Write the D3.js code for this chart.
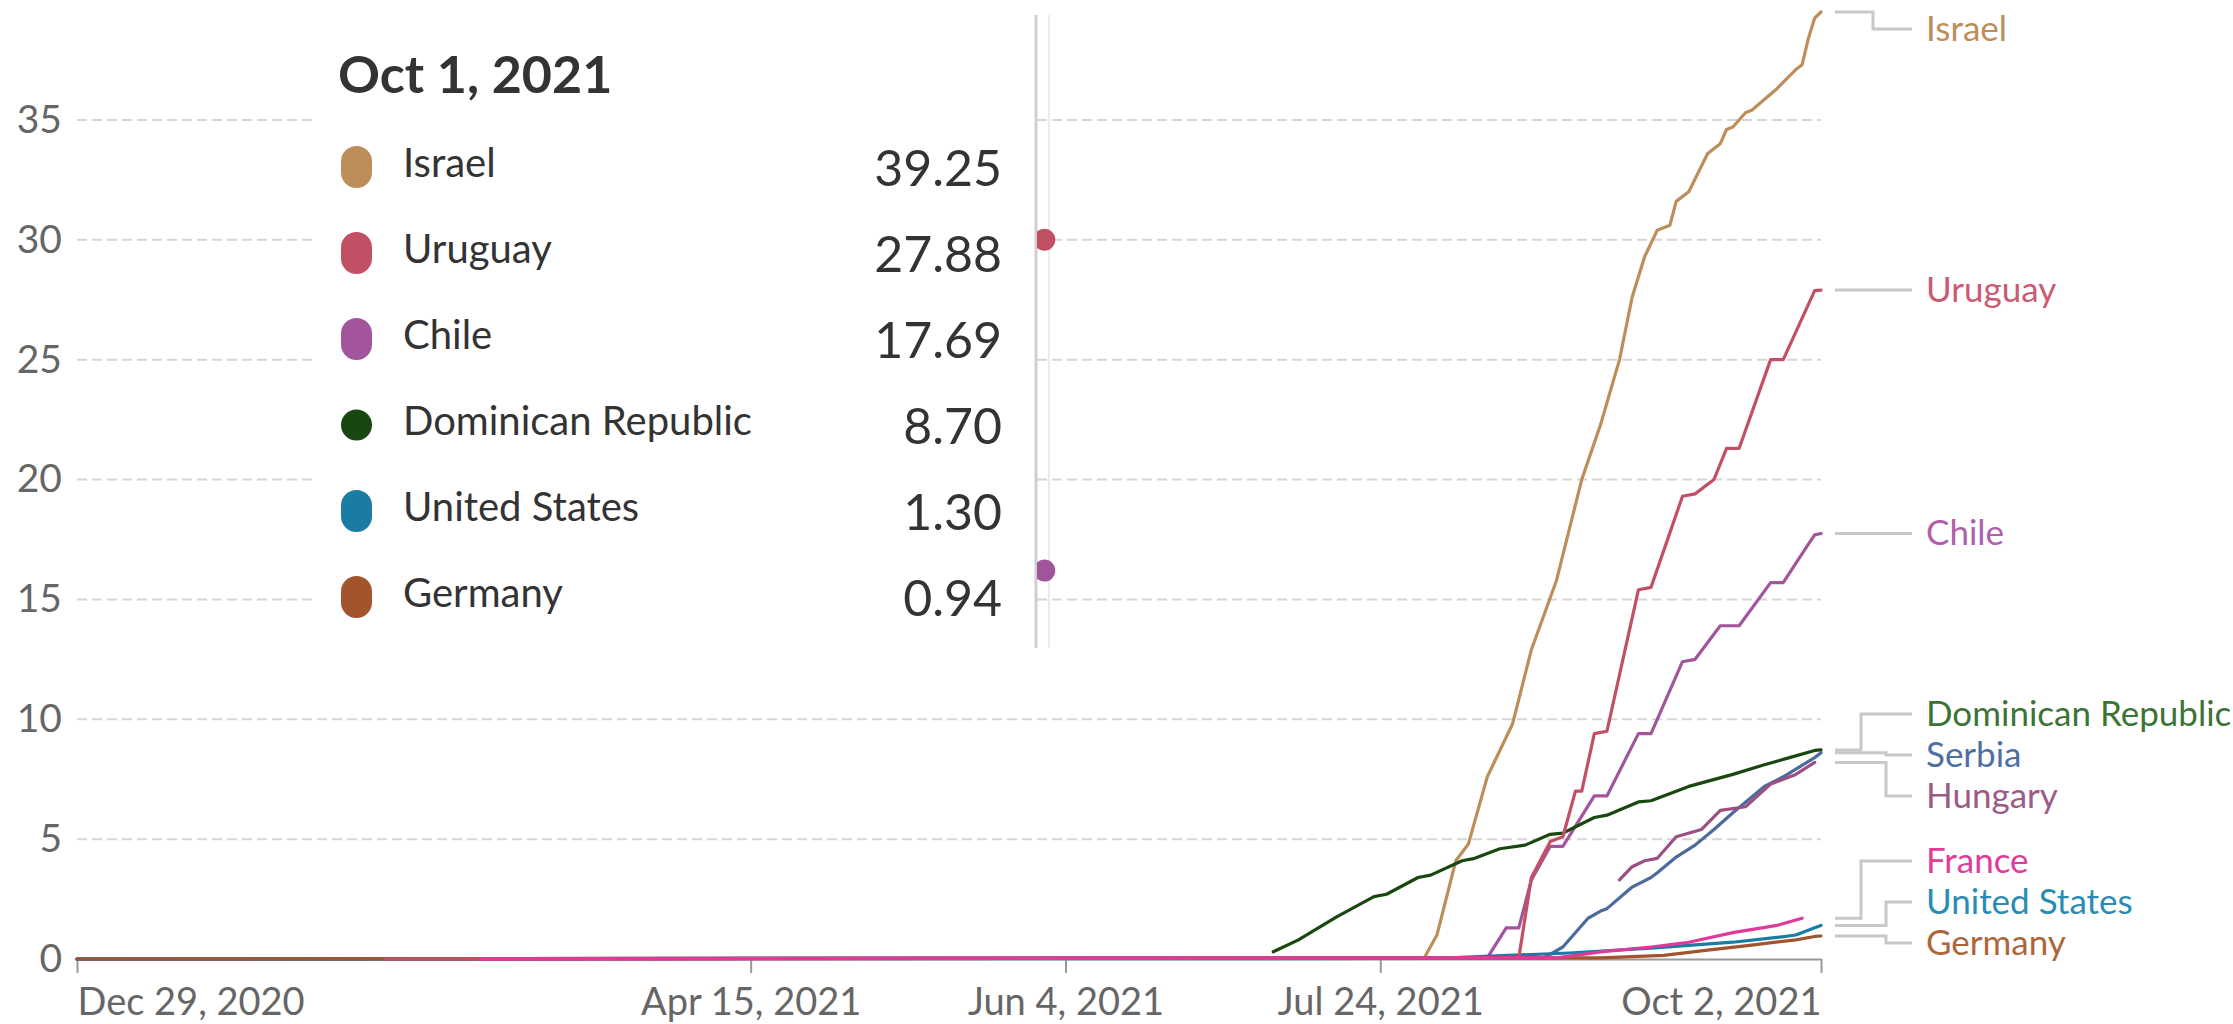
<!DOCTYPE html>
<html>
<head>
<meta charset="utf-8">
<script src="https://cdn.jsdelivr.net/npm/d3@7"></script>
<style>
  body { margin: 0; background: #fff; }
  svg { display: block; font-family: Lato, sans-serif; }
</style>
</head>
<body>
<svg id="chart" width="2233" height="1024"></svg>
<script>
// booster doses per 100 people
const israel = [
    ['2020-12-29', 0], ['2021-07-31', 0.05], ['2021-08-02', 1.0], ['2021-08-05', 4.1], ['2021-08-07', 4.8],
    ['2021-08-10', 7.6], ['2021-08-14', 9.8], ['2021-08-17', 12.9], ['2021-08-21', 15.8], ['2021-08-25', 20.0],
    ['2021-08-28', 22.3], ['2021-08-29', 23.2], ['2021-08-31', 25.0], ['2021-09-02', 27.6], ['2021-09-04', 29.3],
    ['2021-09-06', 30.4], ['2021-09-08', 30.6], ['2021-09-09', 31.6], ['2021-09-11', 32.0], ['2021-09-14', 33.6],
    ['2021-09-16', 34.0], ['2021-09-17', 34.6], ['2021-09-18', 34.7], ['2021-09-20', 35.3], ['2021-09-21', 35.4],
    ['2021-09-25', 36.3], ['2021-09-28', 37.1], ['2021-09-29', 37.3], ['2021-09-30', 38.4], ['2021-10-01', 39.25],
    ['2021-10-02', 39.5]
];
const uruguay = [
    ['2021-02-16', 0], ['2021-08-15', 0.05], ['2021-08-17', 3.4], ['2021-08-20', 4.9], ['2021-08-22', 5.1],
    ['2021-08-24', 7.0], ['2021-08-25', 7.0], ['2021-08-27', 9.4], ['2021-08-29', 9.5], ['2021-09-03', 15.4],
    ['2021-09-05', 15.5], ['2021-09-10', 19.3], ['2021-09-12', 19.4], ['2021-09-15', 20.0], ['2021-09-17', 21.3],
    ['2021-09-19', 21.3], ['2021-09-24', 25.0], ['2021-09-26', 25.0], ['2021-10-01', 27.88], ['2021-10-02', 27.9]
];
const chile = [
    ['2020-12-29', 0], ['2021-08-10', 0.05], ['2021-08-13', 1.3], ['2021-08-15', 1.3], ['2021-08-17', 3.3],
    ['2021-08-20', 4.7], ['2021-08-22', 4.7], ['2021-08-27', 6.8], ['2021-08-29', 6.8], ['2021-09-03', 9.4],
    ['2021-09-05', 9.4], ['2021-09-10', 12.4], ['2021-09-12', 12.5], ['2021-09-16', 13.9], ['2021-09-19', 13.9],
    ['2021-09-24', 15.7], ['2021-09-26', 15.7], ['2021-09-30', 17.3], ['2021-10-01', 17.69], ['2021-10-02', 17.75]
];
const dominicanRepublic = [
    ['2021-07-07', 0.3], ['2021-07-11', 0.8], ['2021-07-17', 1.75], ['2021-07-23', 2.6], ['2021-07-25', 2.7],
    ['2021-07-30', 3.4], ['2021-08-01', 3.5], ['2021-08-06', 4.1], ['2021-08-08', 4.2], ['2021-08-12', 4.6],
    ['2021-08-16', 4.75], ['2021-08-20', 5.2], ['2021-08-22', 5.25], ['2021-08-27', 5.9], ['2021-08-29', 6.0],
    ['2021-09-03', 6.55], ['2021-09-05', 6.6], ['2021-09-11', 7.2], ['2021-09-18', 7.7], ['2021-09-23', 8.1],
    ['2021-09-27', 8.4], ['2021-10-01', 8.70], ['2021-10-02', 8.72]
];
const serbia = [
    ['2020-12-29', 0], ['2021-08-19', 0.05], ['2021-08-22', 0.5], ['2021-08-26', 1.7], ['2021-08-28', 2.0],
    ['2021-08-29', 2.1], ['2021-09-02', 3.0], ['2021-09-05', 3.4], ['2021-09-06', 3.6], ['2021-09-09', 4.25],
    ['2021-09-12', 4.75], ['2021-09-15', 5.4], ['2021-09-18', 6.1], ['2021-09-23', 7.2], ['2021-09-26', 7.6],
    ['2021-10-01', 8.4], ['2021-10-02', 8.6]
];
const hungary = [
    ['2021-08-31', 3.3], ['2021-09-02', 3.85], ['2021-09-04', 4.1], ['2021-09-06', 4.2], ['2021-09-09', 5.1],
    ['2021-09-13', 5.4], ['2021-09-16', 6.2], ['2021-09-20', 6.35], ['2021-09-24', 7.3], ['2021-09-28', 7.7],
    ['2021-10-01', 8.2]
];
const france = [
    ['2021-03-03', 0], ['2021-08-21', 0.05], ['2021-08-28', 0.3], ['2021-09-05', 0.5], ['2021-09-11', 0.7],
    ['2021-09-18', 1.1], ['2021-09-25', 1.4], ['2021-09-29', 1.7]
];
const unitedStates = [
    ['2020-12-29', 0], ['2021-08-01', 0.02], ['2021-08-23', 0.25], ['2021-09-05', 0.45], ['2021-09-18', 0.7],
    ['2021-09-25', 0.9], ['2021-09-28', 1.0], ['2021-10-01', 1.30], ['2021-10-02', 1.4]
];
const germany = [
    ['2020-12-29', 0], ['2021-08-28', 0.05], ['2021-09-07', 0.15], ['2021-09-14', 0.37], ['2021-09-21', 0.58],
    ['2021-09-28', 0.8], ['2021-10-01', 0.94], ['2021-10-02', 0.96]
];

const countries = ['Israel', 'Uruguay', 'Chile', 'Dominican Republic', 'Serbia', 'Hungary', 'France', 'United States', 'Germany'];
const seriesValues = [israel, uruguay, chile, dominicanRepublic, serbia, hungary, france, unitedStates, germany];
const lineColors = ['#BC8E5A', '#C15065', '#A2559C', '#18470F', '#4C6A9C', '#9A5082', '#E0399A', '#1B7CA3', '#A2552C'];
const labelColors = ['#BC8E5A', '#CC5A72', '#B060AA', '#3C7436', '#4F6FA2', '#9C5A86', '#E03C9A', '#2A8CB5', '#AD6638'];
// bottom to top
const drawOrder = ['Israel', 'Chile', 'Serbia', 'Hungary', 'Dominican Republic', 'United States', 'Germany', 'Uruguay', 'France'];

const xDomain = ['2020-12-29', '2021-10-02'];
const xTicks = ['2020-12-29', '2021-04-15', '2021-06-04', '2021-07-24', '2021-10-02'];
const yTicks = [0, 5, 10, 15, 20, 25, 30, 35];

const tooltipDate = '2021-10-01';
const tooltipCountries = ['Israel', 'Uruguay', 'Chile', 'Dominican Republic', 'United States', 'Germany'];

// leftover hover marker seen at the tooltip edge
const hoverDate = '2021-05-31';
const hoverCountries = ['Uruguay', 'Chile'];
const hoverValues = [30.0, 16.2];

const parse = d3.timeParse('%Y-%m-%d');
const fmt = d3.timeFormat('%b %-d, %Y');

const svg = d3.select('#chart');

const x = d3.scaleTime().domain(xDomain.map(parse)).range([77, 1821]);
const y = d3.scaleLinear().domain([0, 40]).range([959, 0]);

const colorOf = name => lineColors[countries.indexOf(name)];

// grid
svg.append('g').selectAll('line')
    .data(yTicks.filter(v => v > 0))
    .join('line')
    .attr('x1', x.range()[0]).attr('x2', x.range()[1])
    .attr('y1', d => y(d)).attr('y2', d => y(d))
    .attr('stroke', '#d6d6d6')
    .attr('stroke-width', 2)
    .attr('stroke-dasharray', '10,5');

// y axis
const yAxis = svg.append('g')
    .attr('transform', `translate(${x.range()[0]},0)`)
    .call(d3.axisLeft(y).tickValues(yTicks).tickSize(0).tickPadding(15));
yAxis.select('.domain').remove();
yAxis.selectAll('text').attr('font-size', 39).attr('fill', '#666').attr('font-family', 'Lato, sans-serif');

// x axis
const xAxis = svg.append('g')
    .attr('transform', `translate(0,${y(0)})`)
    .call(d3.axisBottom(x).tickValues(xTicks.map(parse)).tickFormat(fmt).tickSize(14).tickSizeOuter(0).tickPadding(15));
xAxis.select('.domain').attr('stroke', '#999').attr('stroke-width', 2);
xAxis.selectAll('.tick line').attr('stroke', '#999').attr('stroke-width', 2);
xAxis.selectAll('text').attr('font-size', 38).attr('fill', '#666').attr('font-family', 'Lato, sans-serif');
xAxis.selectAll('.tick text').filter((d, i) => i === 0).attr('text-anchor', 'start');
xAxis.selectAll('.tick text').filter((d, i) => i === xTicks.length - 1).attr('text-anchor', 'end');

// lines
const line = d3.line().x(d => x(parse(d[0]))).y(d => y(d[1]));
svg.append('g').selectAll('path')
    .data(drawOrder)
    .join('path')
    .attr('d', name => line(seriesValues[countries.indexOf(name)]))
    .attr('fill', 'none')
    .attr('stroke', name => colorOf(name))
    .attr('stroke-width', 3.2)
    .attr('stroke-linejoin', 'round')
    .attr('stroke-linecap', 'round');

// end labels with connectors
const labels = countries.map((name, i) => {
    const s = seriesValues[i];
    return { name: name, color: labelColors[i], target: y(s[s.length - 1][1]) };
});
placeLabels(labels, 41, 29, 943);

const labelGroup = svg.append('g');
labelGroup.selectAll('path')
    .data(labels)
    .join('path')
    .attr('d', d => `M1835,${d.target}H${d.bend}V${d.y}H1912`)
    .attr('fill', 'none')
    .attr('stroke', '#c8c8c8')
    .attr('stroke-width', 3);
labelGroup.selectAll('text')
    .data(labels)
    .join('text')
    .attr('x', 1926)
    .attr('y', d => d.y + 12)
    .attr('font-size', 35)
    .attr('fill', d => d.color)
    .text(d => d.name);

function placeLabels(items, gap, minY, maxY) {
    items.sort((a, b) => a.target - b.target);
    const clusters = items.map(d => ({ items: [d] }));
    const layout = c => {
        const span = (c.items.length - 1) * gap;
        const mean = d3.mean(c.items, d => d.target);
        c.top = Math.max(minY, Math.min(maxY - span, mean - span / 2));
        c.bottom = c.top + span;
    };
    clusters.forEach(layout);
    let merged = true;
    while (merged) {
        merged = false;
        for (let i = 1; i < clusters.length; i++) {
            if (clusters[i].top - clusters[i - 1].bottom < gap) {
                clusters[i - 1].items = clusters[i - 1].items.concat(clusters[i].items);
                clusters.splice(i, 1);
                layout(clusters[i - 1]);
                merged = true;
                break;
            }
        }
    }
    clusters.forEach(c => {
        c.items.forEach((d, i) => { d.y = c.top + i * gap; });
        if (c.items.length === 1) {
            c.items[0].bend = 1873;
        } else {
            const far = d3.greatest(c.items, d => Math.abs(d.y - d.target));
            c.items.forEach(d => { d.bend = d === far ? 1861 : 1886; });
        }
    });
}

// tooltip
const tip = svg.append('g');
tip.append('rect')
    .attr('x', 312).attr('y', 0)
    .attr('width', 724).attr('height', 648)
    .attr('fill', '#fff');

tip.append('text')
    .attr('x', 338).attr('y', 93)
    .attr('font-size', 52).attr('font-weight', 700)
    .attr('fill', '#333')
    .text(fmt(parse(tooltipDate)));

const rows = tip.selectAll('g.row')
    .data(tooltipCountries)
    .join('g')
    .attr('class', 'row')
    .attr('transform', (d, i) => `translate(0,${167 + i * 86})`);
rows.append('rect')
    .attr('x', 341).attr('y', d => d === 'Dominican Republic' ? -15.5 : -21)
    .attr('width', 31).attr('height', d => d === 'Dominican Republic' ? 31 : 42)
    .attr('rx', 15.5)
    .attr('fill', d => colorOf(d));
rows.append('text')
    .attr('x', 403).attr('y', 10)
    .attr('font-size', 40).attr('fill', '#333')
    .text(d => d);
rows.append('text')
    .attr('x', 1002).attr('y', 19)
    .attr('text-anchor', 'end')
    .attr('font-size', 50).attr('fill', '#333')
    .text(d => {
        const s = seriesValues[countries.indexOf(d)];
        return s.find(p => p[0] === tooltipDate)[1].toFixed(2);
    });

// hover marker at the tooltip edge
svg.append('clipPath').attr('id', 'strip')
    .append('rect').attr('x', 1037).attr('y', 0).attr('width', 30).attr('height', 648);
svg.append('line')
    .attr('x1', 1036).attr('x2', 1036).attr('y1', 15).attr('y2', 648)
    .attr('stroke', '#d0d0d0').attr('stroke-width', 3);
svg.append('line')
    .attr('x1', 1049).attr('x2', 1049).attr('y1', 15).attr('y2', 648)
    .attr('stroke', '#ececec').attr('stroke-width', 2);
svg.append('g').attr('clip-path', 'url(#strip)')
    .selectAll('circle')
    .data(hoverCountries)
    .join('circle')
    .attr('cx', x(parse(hoverDate)) + 4)
    .attr('cy', (d, i) => y(hoverValues[i]))
    .attr('r', 11)
    .attr('fill', d => colorOf(d));
</script>
</body>
</html>
